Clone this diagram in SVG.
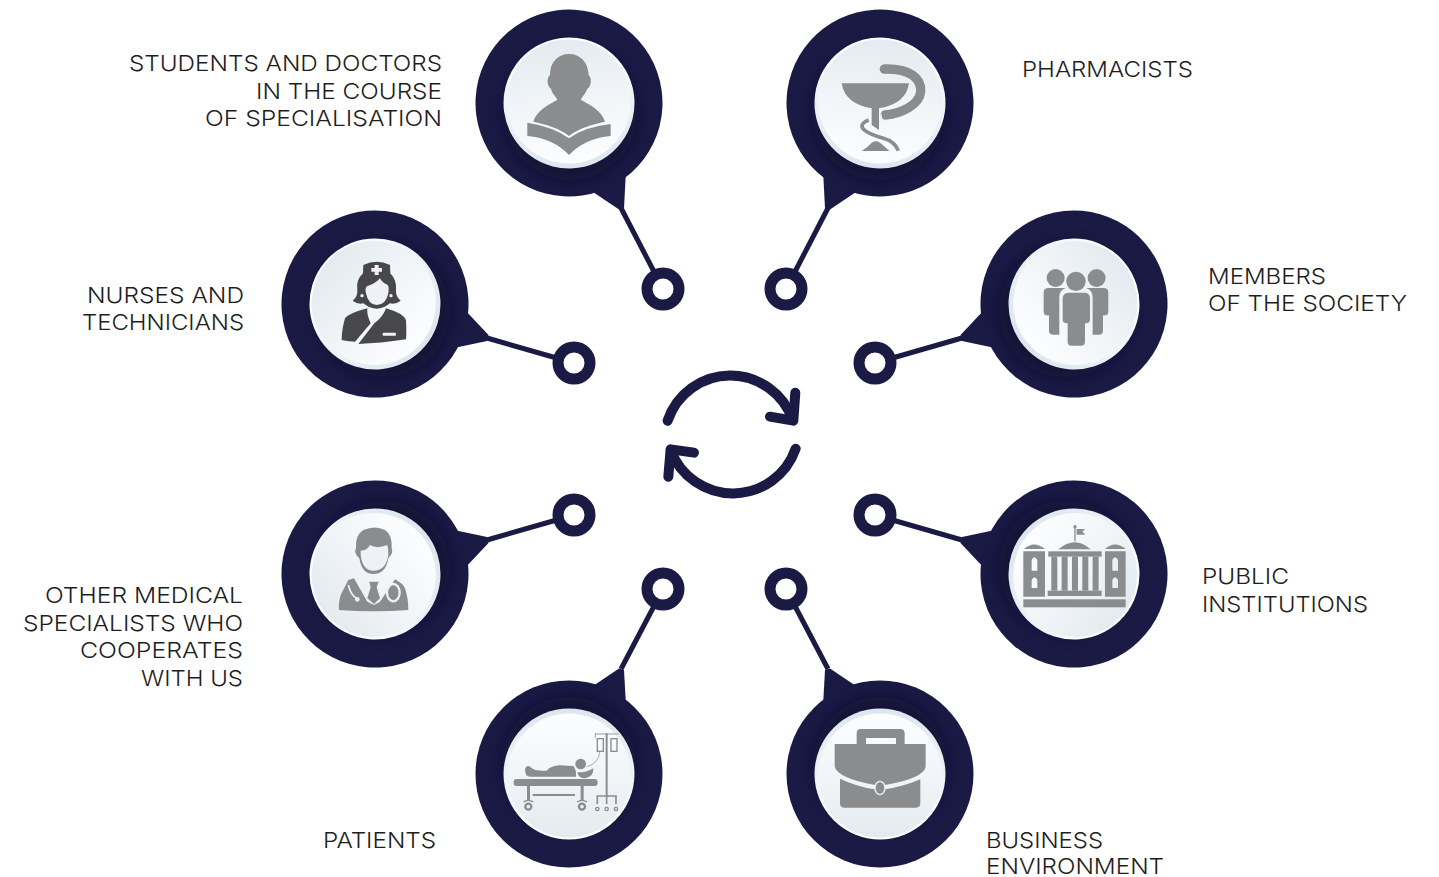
<svg xmlns="http://www.w3.org/2000/svg" xmlns:xlink="http://www.w3.org/1999/xlink" width="1439" height="877" viewBox="0 0 1439 877">
<style>
text{font-family:"Inter","Lato","Liberation Sans",sans-serif;font-weight:300;font-size:22px;fill:#1d1d22}
.tail{fill:#1a1a45}
.ln{stroke:#1a1a45;stroke-width:5;fill:none}
.ring{fill:#fff;stroke:#1a1a45;stroke-width:11}
.g{fill:#8a8c8e}
.gs{stroke:#8a8c8e;fill:none}
.lt{fill:#eef2f6}
.ls{stroke:#eef2f6;fill:none}
</style>
<defs>
<linearGradient id="face" x1="0" y1="0" x2="0" y2="1"><stop offset="0" stop-color="#e4eaef"/><stop offset=".5" stop-color="#f1f5f8"/><stop offset="1" stop-color="#fcfdfe"/></linearGradient>
<linearGradient id="rim" x1="0" y1="0" x2="0" y2="1"><stop offset="0" stop-color="#ffffff"/><stop offset="1" stop-color="#dde6ee"/></linearGradient>
<filter id="blur" x="-40%" y="-40%" width="180%" height="180%"><feGaussianBlur stdDeviation="9"/></filter>
<clipPath id="outer"><circle r="93.5"/></clipPath>
<g id="disc">
<circle r="93.5" fill="#1a1a45"/>
<g clip-path="url(#outer)"><circle cy="11" r="66" fill="#0d0d2c" opacity=".55" filter="url(#blur)"/></g>
<circle r="65.5" fill="url(#rim)"/>
<circle cy="-1.5" r="62" fill="url(#face)"/>
</g>
</defs>

<g id="connectors">
<path class="ln" d="M621 208L663 289"/><circle class="ring" cx="663" cy="289" r="16"/>
<path class="ln" d="M828 208L786 289"/><circle class="ring" cx="786" cy="289" r="16"/>
<path class="ln" d="M487 338L574 363"/><circle class="ring" cx="574" cy="363" r="16"/>
<path class="ln" d="M962 338L875 363"/><circle class="ring" cx="875" cy="363" r="16"/>
<path class="ln" d="M487 540L574 515"/><circle class="ring" cx="574" cy="515" r="16"/>
<path class="ln" d="M962 540L875 515"/><circle class="ring" cx="875" cy="515" r="16"/>
<path class="ln" d="M621 669L663 589"/><circle class="ring" cx="663" cy="589" r="16"/>
<path class="ln" d="M828 669L786 589"/><circle class="ring" cx="786" cy="589" r="16"/>
</g>

<g id="node-students">
<path class="tail" d="M590 190L619 209.5L624 208L626 170Z"/>
<use xlink:href="#disc" href="#disc" transform="translate(569 103) rotate(-8)"/>
<g class="g" transform="translate(470 0) scale(.3333)">
<path d="M297 162C330 162 354 185 356 225C365 232 366 258 352 266C345 285 335 290 333 300C355 312 395 330 405 365C370 372 325 385 297 408C270 385 225 372 190 365C200 330 240 312 262 300C258 288 248 285 243 266C230 258 230 232 240 225C240 185 265 162 297 162Z"/>
<path d="M172 368Q250 380 297 415Q345 380 422 372V408Q345 415 297 465Q250 415 172 408Z"/>
</g>
<text x="129" y="71" textLength="313" lengthAdjust="spacingAndGlyphs">STUDENTS AND DOCTORS</text>
<text x="256" y="99" textLength="186" lengthAdjust="spacingAndGlyphs">IN THE COURSE</text>
<text x="205" y="126" textLength="237" lengthAdjust="spacingAndGlyphs">OF SPECIALISATION</text>
</g>

<g id="node-pharmacists">
<path class="tail" d="M859 190L830 209.5L825 208L823 170Z"/>
<use xlink:href="#disc" href="#disc" transform="translate(880 103) rotate(8)"/>
<g transform="translate(770 0) scale(.3333)">
<path class="g" d="M215 250H417Q408 312 327 325V390L305 375V325Q225 312 215 250Z"/>
<path class="gs" stroke-width="28" stroke-linecap="round" d="M343 207C420 205 455 235 452 275C448 315 395 340 345 345" stroke-linejoin="round"/>
<path class="lt" d="M333 333L338 362L327 365Z"/>
<path class="gs" stroke-width="11" d="M296 360Q270 370 278 385Q290 400 340 415Q375 425 385 452"/>
<path class="g" d="M275 453Q295 440 305 428Q318 420 330 428Q345 440 358 453Z"/>
</g>
<text x="1022" y="77" textLength="171" lengthAdjust="spacingAndGlyphs">PHARMACISTS</text>
</g>

<g id="node-nurses">
<path class="tail" d="M464 309L488.5 335L487 341L454 348Z"/>
<use xlink:href="#disc" href="#disc" transform="translate(375 304) rotate(-50)"/>
<g transform="translate(280 210) scale(.3333)" fill="#48484c">
<path d="M250 165Q290 145 330 165L331 190Q350 210 348 238Q346 260 362 272Q345 285 330 280Q310 296 290 296Q270 296 250 280Q235 285 218 272Q234 260 232 238Q228 210 249 190Z"/>
<path class="lt" d="M300 205Q285 222 262 228Q254 232 258 250Q265 285 290 285Q318 285 325 250Q328 228 322 224Q306 218 300 205Z"/>
<path class="lt" d="M284 165h12v9h10v11h-10v10h-12v-10h-10v-11h10z"/>
<circle class="lt" cx="246" cy="257" r="5"/><circle class="lt" cx="333" cy="257" r="5"/>
<path d="M262 295Q205 310 195 325Q185 360 185 390Q210 395 225 395L272 340Q260 315 262 295Z"/>
<path d="M235 402L283 340Q310 320 318 295Q370 310 378 330Q380 370 378 388Q300 400 235 402Z"/>
<rect class="lt" x="308" y="368" width="40" height="9" rx="3"/>
</g>
<text x="87" y="303" textLength="157" lengthAdjust="spacingAndGlyphs">NURSES AND</text>
<text x="82" y="330" textLength="162" lengthAdjust="spacingAndGlyphs">TECHNICIANS</text>
</g>

<g id="node-society">
<path class="tail" d="M985 309L960.5 335L962 341L995 348Z"/>
<use xlink:href="#disc" href="#disc" transform="translate(1074 304) rotate(50)"/>
<g class="g" transform="translate(850 210) scale(.3333)">
<circle cx="617" cy="204" r="27"/><circle cx="740" cy="204" r="27"/>
<circle cx="678" cy="214" r="29"/>
<path d="M595 234H648Q628 240 628 262V374H610Q597 374 597 362V316H592Q581 316 581 305V248Q581 234 595 234Z"/>
<path d="M761 234H708Q728 240 728 262V374H746Q759 374 759 362V316H764Q775 316 775 305V248Q775 234 761 234Z"/>
<path d="M655 248H705Q720 250 720 265V330Q720 340 705 340V395Q705 407 693 407H665Q653 407 653 395V340Q638 340 638 330V265Q638 250 655 248Z"/>
</g>
<text x="1208" y="284" textLength="118" lengthAdjust="spacingAndGlyphs">MEMBERS</text>
<text x="1208" y="311" textLength="199" lengthAdjust="spacingAndGlyphs">OF THE SOCIETY</text>
</g>

<g id="node-specialists">
<path class="tail" d="M454 530L487 537L488.5 543L464 569Z"/>
<use xlink:href="#disc" href="#disc" transform="translate(375 574) rotate(-130)"/>
<g transform="translate(280 480) scale(.3333)">
<path class="g" d="M228 205Q225 165 250 150Q285 135 315 150Q338 165 335 205Q342 218 325 235Q318 282 280 282Q245 282 238 235Q220 220 228 205Z"/>
<path class="lt" d="M242 212Q262 212 270 195Q290 208 322 195Q326 210 325 225Q318 272 280 272Q248 272 242 225Z"/>
<path class="g" d="M205 300L182 345Q175 370 177 390Q280 398 385 390Q385 355 375 325Q368 310 345 298L300 365L282 375L262 365L222 295Z"/>
<path class="g" d="M268 305H296L290 322L300 355L282 372L262 355L272 322Z"/>
<path class="ls" stroke-width="5" d="M205 315Q212 345 230 355"/>
<circle class="lt" cx="232" cy="358" r="7"/>
<ellipse class="ls" cx="340" cy="338" rx="19" ry="26" stroke-width="7"/>
</g>
<text x="45" y="603" textLength="198" lengthAdjust="spacingAndGlyphs">OTHER MEDICAL</text>
<text x="23" y="631" textLength="220" lengthAdjust="spacingAndGlyphs">SPECIALISTS WHO</text>
<text x="80" y="658" textLength="163" lengthAdjust="spacingAndGlyphs">COOPERATES</text>
<text x="141" y="686" textLength="102" lengthAdjust="spacingAndGlyphs">WITH US</text>
</g>

<g id="node-public">
<path class="tail" d="M995 530L962 537L960.5 543L985 569Z"/>
<use xlink:href="#disc" href="#disc" transform="translate(1074 574) rotate(130)"/>
<g class="g" transform="translate(850 480) scale(.3333)">
<rect x="520" y="358" width="307" height="24"/>
<path d="M522 207Q552 180 585 207Z"/>
<path d="M765 207Q795 180 827 207Z"/>
<path fill-rule="evenodd" d="M520 214H585V350H520ZM545 272H562V240Q553 224 545 240ZM545 324H562V300Q553 284 545 300Z"/>
<path fill-rule="evenodd" d="M765 214H827V350H765ZM787 272H804V240Q795 224 787 240ZM787 324H804V300Q795 284 787 300Z"/>
<path d="M625 208Q675 165 722 208Z"/>
<rect x="595" y="214" width="160" height="16"/>
<rect x="604" y="230" width="18" height="102"/><rect x="635" y="230" width="18" height="102"/><rect x="666" y="230" width="18" height="102"/><rect x="697" y="230" width="18" height="102"/><rect x="728" y="230" width="18" height="102"/>
<rect x="593" y="332" width="162" height="16"/>
<rect x="673" y="142" width="4" height="42"/><circle cx="675" cy="140" r="5"/>
<path d="M680 147H706L697 155L706 164H680Z"/>
</g>
<text x="1202" y="584" textLength="87" lengthAdjust="spacingAndGlyphs">PUBLIC</text>
<text x="1202" y="612" textLength="166" lengthAdjust="spacingAndGlyphs">INSTITUTIONS</text>
</g>

<g id="node-patients">
<path class="tail" d="M590 688L619 668.5L624 670L626 706Z"/>
<use xlink:href="#disc" href="#disc" transform="translate(569 774) rotate(180)"/>
<g transform="translate(470 560) scale(.3333)">
<rect class="g" x="131" y="657" width="252" height="21" rx="9"/>
<rect class="g" x="171" y="678" width="9" height="42"/><rect class="g" x="332" y="678" width="9" height="42"/>
<rect class="g" x="188" y="702" width="127" height="6"/>
<circle class="gs" cx="175" cy="740" r="9" stroke-width="7"/><circle class="gs" cx="336" cy="740" r="9" stroke-width="7"/>
<path class="gs" stroke-width="4" d="M160 726Q175 716 190 726M321 726Q336 716 351 726"/>
<circle class="g" cx="332" cy="612" r="16"/>
<path class="g" d="M165 628Q170 612 182 622Q195 635 230 632Q240 618 270 616L310 618Q320 630 318 650H180Q165 650 165 628Z"/>
<path class="g" d="M322 636Q345 640 370 625Q372 650 345 655Q325 655 322 636Z"/>
<path class="gs" stroke-width="2" d="M350 620Q385 612 390 575"/>
<path class="gs" stroke-width="6" d="M410 520V710"/>
<path class="gs" stroke-width="2.5" d="M375 522H445M376 520V534"/>
<rect class="gs" x="382" y="536" width="18" height="38" stroke-width="4"/>
<rect class="gs" x="423" y="536" width="18" height="38" stroke-width="4"/>
<path class="gs" stroke-width="5" d="M382 732V708H438V732M410 708V732"/>
<circle class="gs" cx="382" cy="747" r="5" stroke-width="4"/><circle class="gs" cx="410" cy="747" r="5" stroke-width="4"/><circle class="gs" cx="438" cy="747" r="5" stroke-width="4"/>
</g>
<text x="323" y="848" textLength="113" lengthAdjust="spacingAndGlyphs">PATIENTS</text>
</g>

<g id="node-business">
<path class="tail" d="M859 688L830 668.5L825 670L823 706Z"/>
<use xlink:href="#disc" href="#disc" transform="translate(880 774) rotate(180)"/>
<g class="g" transform="translate(760 560) scale(.3333)">
<path fill-rule="evenodd" d="M290 555V520Q290 507 303 507H420Q434 507 434 520V555ZM318 552H408V534H318Z"/>
<path d="M224 552H497V620Q490 655 375 675H345Q235 655 224 620Z"/>
<path d="M240 656Q290 680 345 688H375Q430 680 481 658V730Q481 743 468 743H252Q240 743 240 730Z"/>
<ellipse cx="360" cy="684" rx="15" ry="20" stroke="#eef2f6" stroke-width="4"/>
</g>
<text x="986" y="848" textLength="117" lengthAdjust="spacingAndGlyphs">BUSINESS</text>
<text x="986" y="874" textLength="178" lengthAdjust="spacingAndGlyphs">ENVIRONMENT</text>
</g>

<g id="cycle" transform="translate(650 360) scale(.3333)" fill="none" stroke="#1a1a45" stroke-width="30" stroke-linecap="round" stroke-linejoin="round">
<path d="M53 182A198 198 0 0 1 428 180"/>
<path d="M436 98L430 182L360 170"/>
<path d="M437 266A199 199 0 0 1 62 270"/>
<path d="M55 350L62 268L132 278"/>
</g>
</svg>
